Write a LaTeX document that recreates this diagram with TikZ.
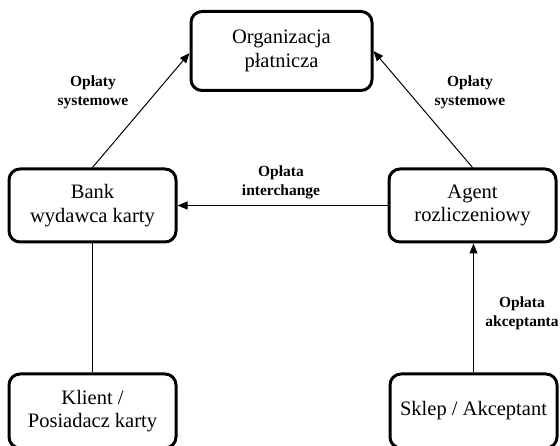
\documentclass[tikz,border=0pt]{standalone}
\usepackage{fontspec}
\setmainfont{Liberation Serif}
\usetikzlibrary{arrows.meta}
\tikzset{
  every picture/.style={line join=round, >={Triangle[length=10pt,width=8pt]}},
  box/.style={draw, line width=3pt, rounded corners=11pt, inner sep=0pt,
    align=center, font=\fontsize{20.5}{23.5}\selectfont},
  fee/.style={align=center, inner sep=0pt, font=\bfseries\fontsize{15.5}{19}\selectfont},
  link/.style={line width=1pt},
}

\begin{document}
\begin{tikzpicture}[x=1pt,y=-1pt]
\useasboundingbox (0,0) rectangle (560,446);
% uczestnicy
\node[box,minimum width=181pt,minimum height=79pt] (org) at (281.5,51) {Organizacja\\płatnicza};
\node[box,minimum width=167pt,minimum height=73pt] (bank) at (92.5,205.5) {Bank\\wydawca karty};
\node[box,minimum width=167pt,minimum height=73pt] (agent) at (472.5,205.5) {Agent\\rozliczeniowy};
\node[box,minimum width=167pt,minimum height=74pt] (klient) at (92.5,411) {Klient /\\Posiadacz karty};
\node[box,minimum width=167pt,minimum height=74pt] (sklep) at (473.5,411) {Sklep / Akceptant};
% przeplywy oplat
\draw[link,->] (bank.north) -- ([yshift=-2pt]org.west);
\draw[link,->] (agent.north) -- (org.east);
\draw[link,->] (agent.west) -- (bank.east);
\draw[link,->] (sklep.north) -- ([xshift=1pt]agent.south);
\draw[link] (bank.south) -- (klient.north);
% etykiety
\node[fee] (sysL) at (93,92) {Opłaty\\systemowe};
\node[fee] (sysR) at (470,92) {Opłaty\\systemowe};
\node[fee] (inter) at (281,182.5) {Opłata\\interchange};
\node[fee] (akc) at (522,313.5) {Opłata\\akceptanta};
\end{tikzpicture}
\end{document}
